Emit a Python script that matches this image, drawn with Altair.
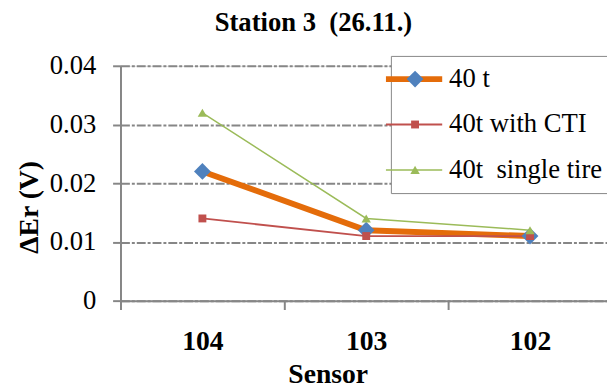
import altair as alt
import pandas as pd

# ---- data ----
sensors = ["104", "103", "102"]
series_names = ["40 t", "40t with CTI", "40t\u00a0 single tire"]
marker_keys = ["40 t marker", "40t with CTI marker", "40t single tire marker"]
values_40t = [0.022, 0.012, 0.011]
values_cti = [0.014, 0.011, 0.011]
values_single = [0.032, 0.014, 0.012]
y_ticks = [0, 0.01, 0.02, 0.03, 0.04]

# ---- styles ----
line_colors = ["#E46C0A", "#C0504D", "#9BBB59"]
marker_colors = ["#4F81BD", "#C0504D", "#9BBB59"]
marker_shapes = ["diamond", "square", "triangle-up"]
marker_sizes = [289, 64, 90]
line_widths = [6, 1.8, 1.5]
FONT = "'Liberation Serif', 'Times New Roman', Times, serif"
GRAY = "#868686"

rows = []
for name, key, vals in zip(series_names, marker_keys, [values_40t, values_cti, values_single]):
    for s, v in zip(sensors, vals):
        rows.append({"Sensor": s, "value": v, "series": name, "marker": key})
df = pd.DataFrame(rows)

x_enc = alt.X(
    "Sensor:N",
    sort=sensors,
    scale=alt.Scale(domain=sensors, range=[0, 498], paddingInner=0, paddingOuter=0),
    axis=alt.Axis(
        title="Sensor",
        tickBand="extent",
        labelAngle=0,
        labelFont=FONT,
        labelFontSize=28,
        labelFontWeight="bold",
        labelColor="black",
        labelPadding=19,
        tickSize=9,
        tickWidth=2,
        tickColor=GRAY,
        domainColor=GRAY,
        domainWidth=2,
        grid=False,
        titleFont=FONT,
        titleFontSize=28,
        titleFontWeight="bold",
        titleColor="black",
        titleX=210,
        titleY=83,
        titleAlign="center",
        titleBaseline="alphabetic",
    ),
)

y_enc = alt.Y(
    "value:Q",
    scale=alt.Scale(domain=[0, 0.04], nice=False),
    axis=alt.Axis(
        values=y_ticks,
        labelExpr="datum.value == 0 ? '0' : format(datum.value, '.2f')",
        labelFont=FONT,
        labelFontSize=27,
        labelColor="black",
        labelPadding=17,
        tickSize=8,
        tickWidth=2,
        tickColor=GRAY,
        domainColor=GRAY,
        domainWidth=2,
        grid=True,
        gridColor=GRAY,
        gridWidth=2,
        gridDash=[9, 2, 3, 2],
        title="ΔEr (V)",
        titleFont=FONT,
        titleFontSize=28,
        titleFontWeight="bold",
        titleColor="black",
        titleAngle=270,
        titleX=-92,
        titleY=143,
        titleAlign="center",
        titleBaseline="middle",
    ),
)

# legend with the line samples, labels and the white box
legend_a = alt.Legend(
    orient="none", legendX=274, legendY=-10, title=None,
    symbolType="M-3,0H3", symbolSize=361,
    labelFont=FONT, labelFontSize=27, labelColor="black", labelOffset=22,
    fillColor="white", strokeColor=GRAY, padding=10, rowPadding=18,
)
# legend with the marker symbols only, drawn over the first one
legend_b = alt.Legend(
    orient="none", legendX=275, legendY=-10, title=None,
    labelFont=FONT, labelFontSize=27, labelExpr="''", labelOffset=3,
    padding=10, rowPadding=18, symbolStrokeWidth=0,
)

lines = alt.Chart(df).mark_line().encode(
    x=x_enc,
    y=y_enc,
    stroke=alt.Stroke("series:N", scale=alt.Scale(domain=series_names, range=line_colors), legend=legend_a),
    strokeWidth=alt.StrokeWidth(
        "series:N",
        scale=alt.Scale(type="ordinal", domain=series_names, range=line_widths),
        legend=legend_a,
    ),
)

points = alt.Chart(df).mark_point(filled=True, opacity=1, strokeWidth=0).encode(
    x=x_enc,
    y=y_enc,
    fill=alt.Fill("marker:N", scale=alt.Scale(domain=marker_keys, range=marker_colors), legend=legend_b),
    shape=alt.Shape("marker:N", scale=alt.Scale(domain=marker_keys, range=marker_shapes), legend=legend_b),
    size=alt.Size(
        "marker:N",
        scale=alt.Scale(type="ordinal", domain=marker_keys, range=marker_sizes),
        legend=legend_b,
    ),
)

chart = (
    alt.layer(lines, points)
    .properties(
        width=493,
        height=238,
        autosize=alt.AutoSizeParams(type="none"),
        padding={"left": 114, "top": 56, "right": 0, "bottom": 89},
        title=alt.TitleParams(
            "Station 3\u00a0 (26.11.)",
            font=FONT, fontSize=27, fontWeight="bold", color="black",
            anchor="middle", frame="group", dx=-51, offset=15,
        ),
    )
    .configure_view(stroke=None)
    .configure_legend(strokeWidth=1.5)
    .configure(background="white")
)

chart.save("out.html", embed_options={"renderer": "svg", "actions": False})
